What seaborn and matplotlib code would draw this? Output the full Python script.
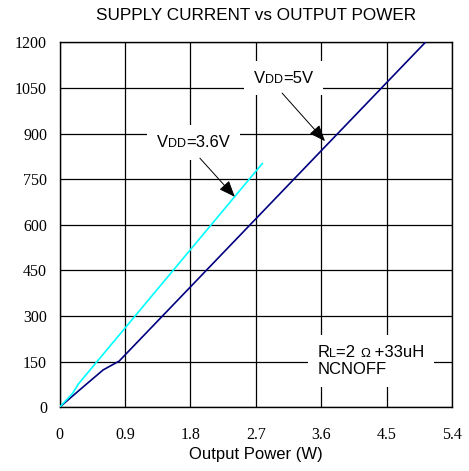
"""Supply current vs output power, two supply voltages."""

import matplotlib
matplotlib.use("Agg")
import matplotlib.pyplot as plt
import pandas as pd
import seaborn as sns
from matplotlib.offsetbox import AnnotationBbox, HPacker, TextArea, VPacker

# data ------------------------------------------------------------------------
power_5v = [0.0, 0.30, 0.60, 0.82, 5.03]
current_5v = [0, 62, 123, 152, 1200]
power_36v = [0.0, 0.18, 0.26, 2.79]
current_36v = [0, 46, 77, 802]

x_ticks = [0, 0.9, 1.8, 2.7, 3.6, 4.5, 5.4]
x_labels = ["0", "0.9", "1.8", "2.7", "3.6", "4.5", "5.4"]
y_ticks = [0, 150, 300, 450, 600, 750, 900, 1050, 1200]

PALETTE = {"5V": "#000080", "3.6V": "#00FFFF"}

sns.set_style("white")
plt.rcParams["font.family"] = ["Liberation Sans", "DejaVu Sans"]
plt.rcParams.update({"text.color": "black", "axes.labelcolor": "black",
                     "xtick.color": "black", "ytick.color": "black"})
SERIF = ["Liberation Serif", "DejaVu Serif"]

df = pd.concat([
    pd.DataFrame({"power": power_5v, "current": current_5v, "vdd": "5V"}),
    pd.DataFrame({"power": power_36v, "current": current_36v, "vdd": "3.6V"}),
], ignore_index=True)

fig = plt.figure(figsize=(4.69, 4.71), dpi=100)
ax = fig.add_axes([0.1269, 0.1352, 0.8375, 0.7750])

sns.lineplot(data=df, x="power", y="current", hue="vdd", palette=PALETTE,
             sort=False, estimator=None, lw=1.2, legend=False, ax=ax, zorder=3)

ax.set_xlim(0, 5.4)
ax.set_ylim(0, 1200)
ax.set_xticks(x_ticks)
ax.set_xticklabels(x_labels, fontfamily=SERIF, fontsize=11.5)
ax.set_yticks(y_ticks)
ax.set_yticklabels([str(v) for v in y_ticks], fontfamily=SERIF, fontsize=11.5)
ax.tick_params(axis="x", length=0, pad=14)
ax.tick_params(axis="y", length=0, pad=9)
ax.grid(True, color="black", lw=0.9)
for s in ax.spines.values():
    s.set_color("black")
    s.set_linewidth(1.0)

ax.set_xlabel("Output Power (W)", fontsize=12, labelpad=3)
ax.set_ylabel("")
ax.set_title("SUPPLY CURRENT vs OUTPUT POWER", fontsize=12.3, pad=16)


def label_box(parts, xy, pad=0.7):
    rows = []
    for line in parts:
        rows.append(HPacker(children=[TextArea(t, textprops=dict(fontsize=fs, color="black"))
                                      for t, fs in line],
                            align="baseline", pad=0, sep=0))
    box = VPacker(children=rows, align="left", pad=0, sep=2) if len(rows) > 1 else rows[0]
    ab = AnnotationBbox(box, xy, xycoords="data", frameon=True, pad=pad,
                        bboxprops=dict(fc="white", ec="none"), zorder=4)
    ax.add_artist(ab)


def arrow(tail, tip):
    ax.annotate("", xy=tip, xytext=tail, zorder=5,
                arrowprops=dict(arrowstyle="-|>,head_length=1.0,head_width=0.4",
                                color="black", lw=0.7, shrinkA=0, shrinkB=0))


label_box([[("V", 12), ("DD", 9), ("=5V", 12)]], (3.08, 1082))
arrow((3.06, 1033), (3.65, 875))

label_box([[("V", 12), ("DD", 9), ("=3.6V", 12)]], (1.84, 870))
arrow((1.93, 819), (2.41, 692))

label_box([[("R", 12), ("L", 9), ("=2 ", 12), ("\u03a9", 9.5), (" +33uH", 12)],
           [("NCNOFF", 12)]], (4.28, 152), pad=0.7)

fig.savefig("out.png", dpi=100)
